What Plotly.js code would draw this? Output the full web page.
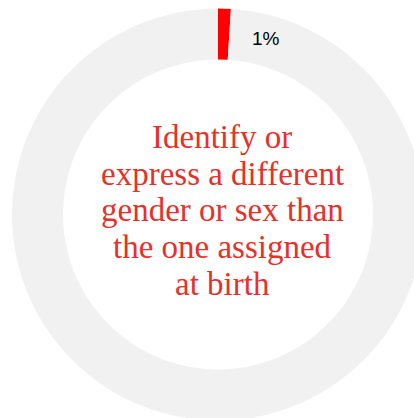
<!DOCTYPE html>
<html>
<head>
<meta charset="utf-8">
<script src="https://cdn.plot.ly/plotly-3.0.1.min.js"></script>
<style>
html,body{margin:0;padding:0;overflow:hidden;background:#fff;width:414px;height:418px;}
#chart{width:440px;height:440px;}
</style>
</head>
<body>
<div id="chart"></div>
<script>
var categories = ["Identify or express a different gender or sex than the one assigned at birth", "Other"];
var values = [1, 99];
var colors = ["#ff0000", "#f1f1f1"];
var centerLines = ["Identify or", "express a different", "gender or sex than", "the one assigned", "at birth"];

var W = 440, H = 440;
var cx = 218, cy = 214.5, R = 206;

var annotations = [{
  text: values[0] + "%",
  x: 266 / W, y: 1 - 38 / H, xref: "paper", yref: "paper",
  xanchor: "center", yanchor: "middle", showarrow: false,
  font: {family: "Liberation Sans, Arial, sans-serif", size: 19, color: "#000"}
}];
var lineGap = 36.7, firstBaseline = 148;
centerLines.forEach(function (t, i) {
  var base = firstBaseline + i * lineGap;
  annotations.push({
    text: t,
    x: 222 / W, y: 1 - (base - 11) / H, xref: "paper", yref: "paper",
    xanchor: "center", yanchor: "middle", showarrow: false,
    font: {family: "Liberation Serif, Times New Roman, serif", size: 33, color: "#e8302a"}
  });
});

Plotly.newPlot("chart", [{
  type: "pie",
  labels: categories,
  values: values,
  hole: 155 / 206,
  sort: false,
  direction: "clockwise",
  rotation: 0,
  textinfo: "none",
  hoverinfo: "none",
  marker: {colors: colors, line: {width: 0}},
  domain: {x: [(cx - R) / W, (cx + R) / W], y: [(H - cy - R) / H, (H - cy + R) / H]}
}], {
  width: W, height: H,
  margin: {l: 0, r: 0, t: 0, b: 0, pad: 0},
  showlegend: false,
  paper_bgcolor: "#ffffff",
  annotations: annotations
}, {staticPlot: true, displayModeBar: false});
</script>
</body>
</html>
